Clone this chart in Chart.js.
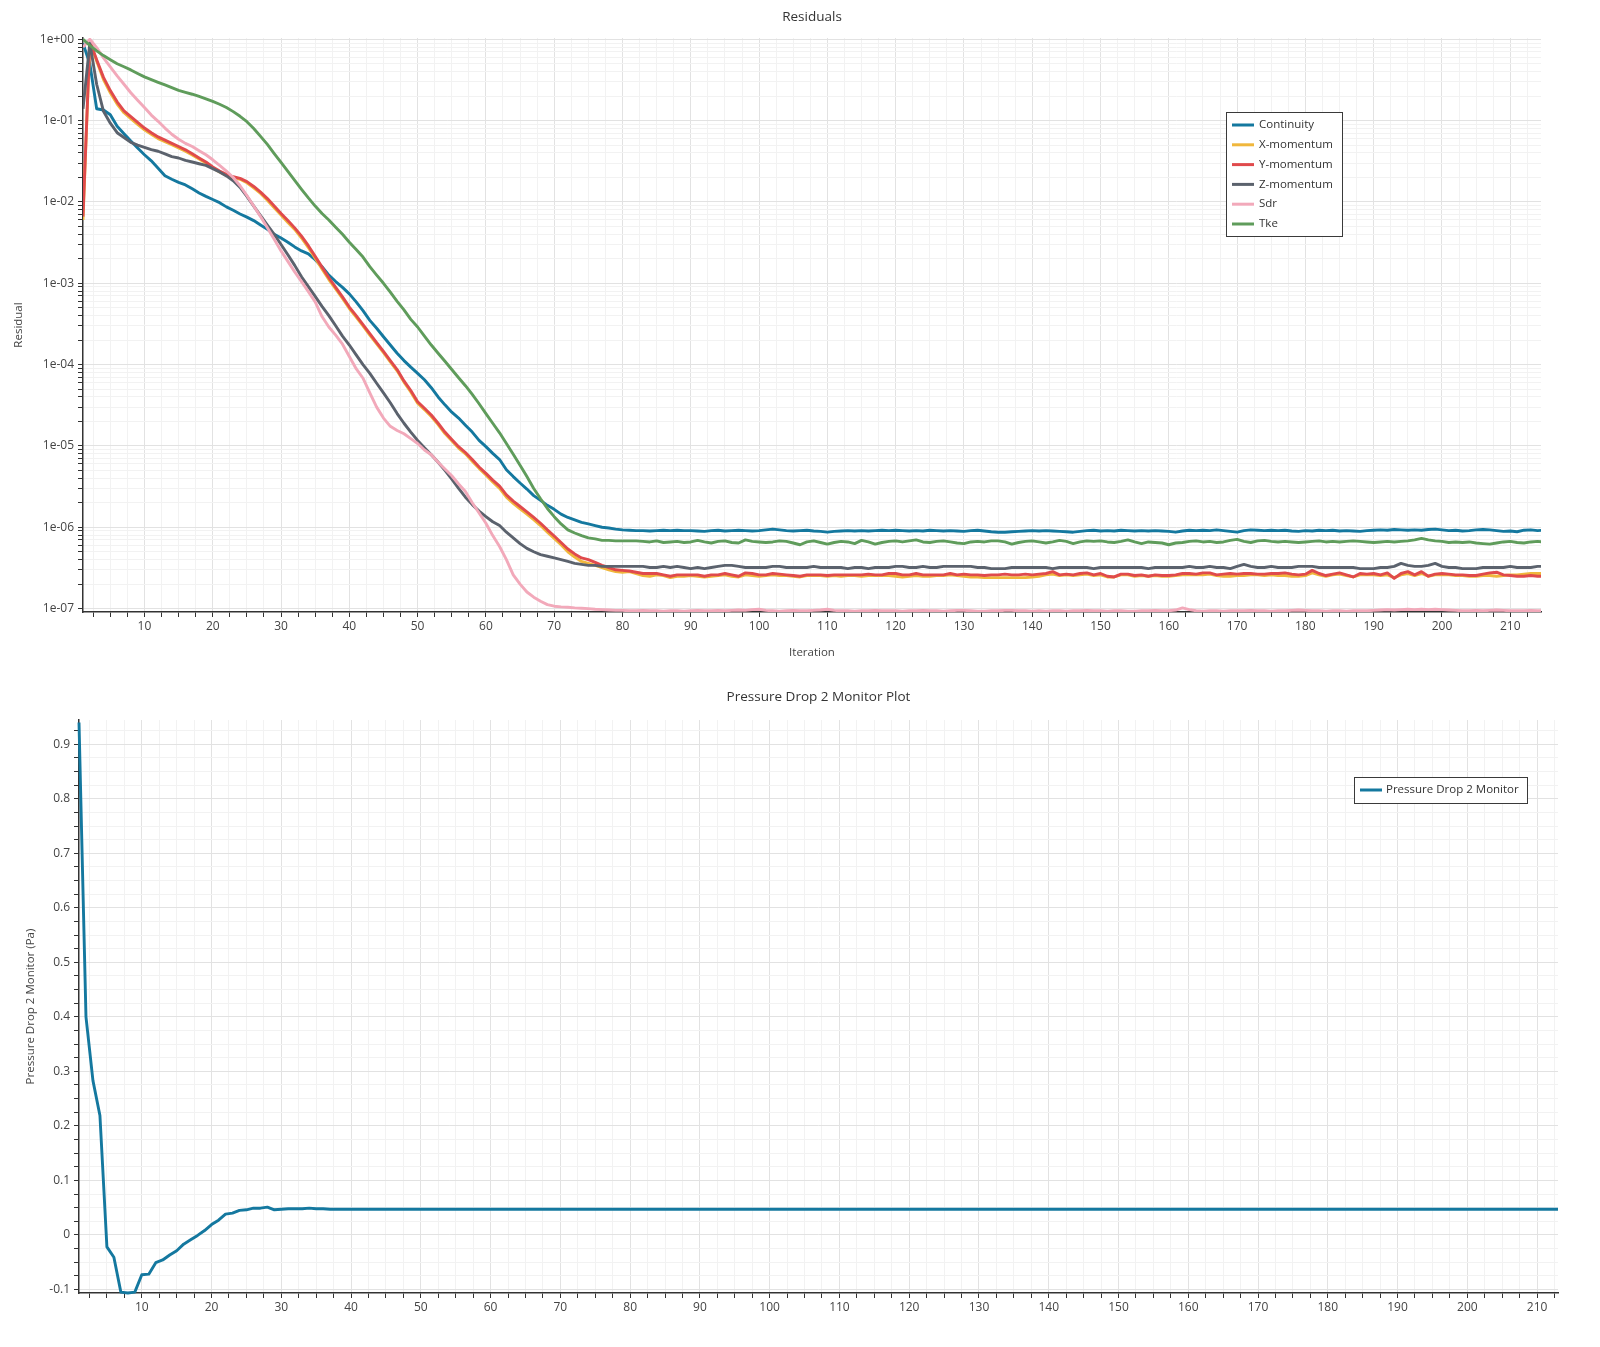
<!DOCTYPE html>
<html><head><meta charset="utf-8">
<script src="https://cdn.jsdelivr.net/npm/chart.js@4.4.0/dist/chart.umd.min.js"></script>
<style>
html,body{margin:0;padding:0;background:#fff;}
#wrap{position:relative;width:1600px;height:1347px;background:#fff;}
#c1{position:absolute;left:0;top:0;}
#c2{position:absolute;left:0;top:668px;}
</style></head><body>
<div id="wrap"><canvas id="c1" width="1600" height="668"></canvas><canvas id="c2" width="1600" height="679"></canvas></div>
<script>
// ---------- DATA ----------
const seriesNames = ['Continuity','X-momentum','Y-momentum','Z-momentum','Sdr','Tke'];
const seriesColors = ['#14789f','#f0b73c','#e04a4c','#5b626d','#f2a9ba','#5f9c5b'];

const continuity = [
0.89,0.50,0.14,0.135,0.118,0.085,0.069,0.056,0.046,0.038,
0.032,0.026,0.021,0.019,0.0174,0.0162,0.0145,0.0129,0.0117,0.0107,
0.0098,0.0087,0.0079,0.0071,0.0065,0.0059,0.0052,0.0046,0.0040,0.0036,
0.0032,0.0028,0.0025,0.0023,0.00195,0.0016,0.00126,0.00105,8.9e-4,7.4e-4,
5.9e-4,4.6e-4,3.5e-4,2.8e-4,2.2e-4,1.74e-4,1.38e-4,1.12e-4,9.3e-5,7.8e-5,
6.5e-5,5.2e-5,4.0e-5,3.2e-5,2.6e-5,2.2e-5,1.8e-5,1.48e-5,1.17e-5,9.8e-6,
8.1e-6,6.8e-6,5.1e-6,4.2e-6,3.5e-6,2.95e-6,2.45e-6,2.14e-6,1.86e-6,1.66e-6,
1.45e-6,1.32e-6,1.23e-6,1.15e-6,1.10e-6,1.05e-6,1.0e-6,9.8e-7,9.5e-7,9.3e-7,
9.2e-7,9.1e-7,9.1e-7,9.0e-7,9.1e-7,9.2e-7,9.1e-7,9.2e-7,9.1e-7,9.1e-7,
9.0e-7,8.9e-7,9.1e-7,9.2e-7,9.0e-7,9.1e-7,9.2e-7,9.1e-7,9.0e-7,9.1e-7,
9.3e-7,9.5e-7,9.3e-7,9.1e-7,9.0e-7,9.1e-7,9.2e-7,9.0e-7,8.9e-7,8.7e-7,
8.9e-7,9.0e-7,9.1e-7,9.0e-7,9.1e-7,9.0e-7,9.1e-7,9.2e-7,9.1e-7,9.2e-7,
9.1e-7,9.0e-7,9.1e-7,9.0e-7,9.2e-7,9.1e-7,9.0e-7,9.1e-7,9.0e-7,8.9e-7,
9.1e-7,9.2e-7,9.0e-7,8.8e-7,8.7e-7,8.7e-7,8.8e-7,8.9e-7,9.0e-7,9.1e-7,
9.0e-7,9.1e-7,9.0e-7,8.9e-7,8.8e-7,8.7e-7,8.9e-7,9.1e-7,9.2e-7,9.0e-7,
9.1e-7,9.0e-7,9.2e-7,9.1e-7,9.0e-7,9.1e-7,9.0e-7,9.1e-7,9.0e-7,8.9e-7,
8.7e-7,9.0e-7,9.2e-7,9.1e-7,9.2e-7,9.1e-7,9.3e-7,9.1e-7,8.9e-7,8.7e-7,
9.1e-7,9.3e-7,9.2e-7,9.1e-7,9.2e-7,9.1e-7,9.2e-7,9.0e-7,8.9e-7,9.1e-7,
9.0e-7,9.2e-7,9.1e-7,9.2e-7,9.0e-7,9.1e-7,9.0e-7,8.9e-7,9.1e-7,9.2e-7,
9.3e-7,9.2e-7,9.4e-7,9.3e-7,9.2e-7,9.3e-7,9.2e-7,9.4e-7,9.5e-7,9.3e-7,
9.1e-7,9.2e-7,9.0e-7,9.1e-7,9.3e-7,9.4e-7,9.3e-7,9.1e-7,8.9e-7,9.0e-7,
8.8e-7,9.2e-7,9.3e-7,9.1e-7,9.2e-7
];

const xMomentum = [
6.0e-3,0.93,0.54,0.32,0.22,0.16,0.125,0.106,0.09,0.077,
0.068,0.06,0.055,0.0505,0.046,0.042,0.0378,0.0337,0.0301,0.0262,
0.0234,0.0213,0.0199,0.019,0.0172,0.0149,0.0127,0.0105,0.0085,0.0069,
0.0056,0.0046,0.0036,0.00275,0.00203,0.0015,0.00111,8.5e-4,6.5e-4,4.9e-4,
3.85e-4,3.0e-4,2.3e-4,1.8e-4,1.4e-4,1.08e-4,8.4e-5,6.1e-5,4.6e-5,3.35e-5,
2.8e-5,2.3e-5,1.83e-5,1.42e-5,1.16e-5,9.4e-6,8.0e-6,6.5e-6,5.3e-6,4.4e-6,
3.6e-6,3.0e-6,2.35e-6,1.97e-6,1.68e-6,1.45e-6,1.24e-6,1.05e-6,8.7e-7,7.3e-7,
6.1e-7,5.0e-7,4.3e-7,3.8e-7,3.6e-7,3.4e-7,3.2e-7,3.0e-7,2.85e-7,2.8e-7,
2.85e-7,2.7e-7,2.55e-7,2.5e-7,2.6e-7,2.55e-7,2.4e-7,2.5e-7,2.5e-7,2.55e-7,
2.5e-7,2.45e-7,2.5e-7,2.55e-7,2.6e-7,2.5e-7,2.45e-7,2.6e-7,2.55e-7,2.5e-7,
2.55e-7,2.6e-7,2.55e-7,2.55e-7,2.5e-7,2.45e-7,2.55e-7,2.55e-7,2.55e-7,2.5e-7,
2.55e-7,2.5e-7,2.55e-7,2.55e-7,2.5e-7,2.55e-7,2.55e-7,2.55e-7,2.55e-7,2.5e-7,
2.45e-7,2.5e-7,2.55e-7,2.5e-7,2.5e-7,2.55e-7,2.55e-7,2.6e-7,2.55e-7,2.5e-7,
2.45e-7,2.45e-7,2.4e-7,2.4e-7,2.4e-7,2.4e-7,2.4e-7,2.4e-7,2.4e-7,2.45e-7,
2.5e-7,2.6e-7,2.65e-7,2.55e-7,2.6e-7,2.55e-7,2.6e-7,2.65e-7,2.55e-7,2.6e-7,
2.45e-7,2.45e-7,2.6e-7,2.6e-7,2.5e-7,2.55e-7,2.5e-7,2.55e-7,2.5e-7,2.5e-7,
2.55e-7,2.6e-7,2.6e-7,2.6e-7,2.6e-7,2.65e-7,2.55e-7,2.5e-7,2.5e-7,2.55e-7,
2.55e-7,2.6e-7,2.6e-7,2.55e-7,2.6e-7,2.55e-7,2.55e-7,2.5e-7,2.5e-7,2.55e-7,
2.75e-7,2.6e-7,2.5e-7,2.6e-7,2.65e-7,2.55e-7,2.45e-7,2.6e-7,2.6e-7,2.6e-7,
2.55e-7,2.6e-7,2.4e-7,2.6e-7,2.7e-7,2.55e-7,2.7e-7,2.5e-7,2.6e-7,2.6e-7,
2.6e-7,2.55e-7,2.55e-7,2.5e-7,2.5e-7,2.55e-7,2.55e-7,2.5e-7,2.55e-7,2.6e-7,
2.6e-7,2.65e-7,2.7e-7,2.7e-7,2.7e-7
];

const yMomentum = [
6.6e-3,0.95,0.56,0.34,0.234,0.17,0.132,0.112,0.095,0.081,
0.071,0.063,0.0575,0.0525,0.048,0.0437,0.039,0.0347,0.031,0.0269,
0.024,0.0219,0.0204,0.0195,0.0178,0.0155,0.0132,0.011,0.0089,0.0072,
0.0059,0.0048,0.0038,0.0029,0.00214,0.00158,0.00117,8.9e-4,6.8e-4,5.1e-4,
4.0e-4,3.1e-4,2.4e-4,1.86e-4,1.45e-4,1.12e-4,8.7e-5,6.3e-5,4.8e-5,3.5e-5,
2.9e-5,2.4e-5,1.9e-5,1.48e-5,1.2e-5,9.8e-6,8.3e-6,6.8e-6,5.5e-6,4.6e-6,
3.8e-6,3.2e-6,2.5e-6,2.1e-6,1.8e-6,1.55e-6,1.32e-6,1.12e-6,9.3e-7,7.8e-7,
6.5e-7,5.4e-7,4.7e-7,4.2e-7,4.0e-7,3.7e-7,3.4e-7,3.2e-7,3.0e-7,2.95e-7,
2.9e-7,2.8e-7,2.7e-7,2.7e-7,2.7e-7,2.6e-7,2.5e-7,2.6e-7,2.6e-7,2.6e-7,
2.6e-7,2.5e-7,2.6e-7,2.6e-7,2.7e-7,2.6e-7,2.5e-7,2.75e-7,2.7e-7,2.6e-7,
2.6e-7,2.7e-7,2.65e-7,2.6e-7,2.55e-7,2.5e-7,2.6e-7,2.6e-7,2.6e-7,2.55e-7,
2.6e-7,2.6e-7,2.6e-7,2.6e-7,2.6e-7,2.65e-7,2.6e-7,2.6e-7,2.7e-7,2.7e-7,
2.6e-7,2.6e-7,2.7e-7,2.6e-7,2.6e-7,2.6e-7,2.6e-7,2.7e-7,2.6e-7,2.65e-7,
2.6e-7,2.6e-7,2.55e-7,2.6e-7,2.6e-7,2.65e-7,2.6e-7,2.6e-7,2.65e-7,2.6e-7,
2.65e-7,2.7e-7,2.85e-7,2.6e-7,2.65e-7,2.6e-7,2.7e-7,2.75e-7,2.6e-7,2.7e-7,
2.5e-7,2.45e-7,2.65e-7,2.65e-7,2.55e-7,2.6e-7,2.5e-7,2.6e-7,2.55e-7,2.55e-7,
2.6e-7,2.7e-7,2.7e-7,2.65e-7,2.75e-7,2.75e-7,2.6e-7,2.65e-7,2.7e-7,2.65e-7,
2.7e-7,2.7e-7,2.65e-7,2.65e-7,2.7e-7,2.7e-7,2.75e-7,2.65e-7,2.6e-7,2.65e-7,
2.95e-7,2.7e-7,2.55e-7,2.65e-7,2.75e-7,2.6e-7,2.45e-7,2.7e-7,2.65e-7,2.7e-7,
2.6e-7,2.75e-7,2.35e-7,2.7e-7,2.85e-7,2.6e-7,2.85e-7,2.5e-7,2.65e-7,2.7e-7,
2.65e-7,2.6e-7,2.6e-7,2.55e-7,2.55e-7,2.65e-7,2.75e-7,2.8e-7,2.6e-7,2.55e-7,
2.5e-7,2.5e-7,2.55e-7,2.5e-7,2.5e-7
];

const zMomentum = [
0.14,0.9,0.28,0.13,0.093,0.071,0.062,0.054,0.050,0.047,
0.044,0.042,0.039,0.036,0.0347,0.0324,0.031,0.0295,0.0282,0.0257,
0.0234,0.0209,0.0182,0.0151,0.0117,0.0089,0.0068,0.0052,0.0040,0.0030,
0.00224,0.00166,0.0012,9.1e-4,6.9e-4,5.2e-4,4.0e-4,3.0e-4,2.24e-4,1.74e-4,
1.32e-4,1.0e-4,7.8e-5,5.9e-5,4.5e-5,3.4e-5,2.5e-5,1.9e-5,1.48e-5,1.17e-5,
9.5e-6,7.8e-6,6.3e-6,5.0e-6,3.9e-6,3.0e-6,2.34e-6,1.9e-6,1.58e-6,1.35e-6,
1.17e-6,1.05e-6,8.7e-7,7.4e-7,6.3e-7,5.5e-7,5.0e-7,4.6e-7,4.4e-7,4.2e-7,
4.0e-7,3.8e-7,3.6e-7,3.5e-7,3.4e-7,3.4e-7,3.3e-7,3.3e-7,3.3e-7,3.3e-7,
3.3e-7,3.3e-7,3.3e-7,3.2e-7,3.2e-7,3.3e-7,3.2e-7,3.3e-7,3.2e-7,3.1e-7,
3.2e-7,3.1e-7,3.2e-7,3.3e-7,3.4e-7,3.4e-7,3.3e-7,3.2e-7,3.2e-7,3.2e-7,
3.2e-7,3.3e-7,3.3e-7,3.2e-7,3.2e-7,3.2e-7,3.2e-7,3.3e-7,3.2e-7,3.2e-7,
3.2e-7,3.2e-7,3.1e-7,3.2e-7,3.2e-7,3.1e-7,3.2e-7,3.2e-7,3.2e-7,3.3e-7,
3.3e-7,3.2e-7,3.2e-7,3.3e-7,3.2e-7,3.2e-7,3.3e-7,3.3e-7,3.3e-7,3.3e-7,
3.3e-7,3.2e-7,3.2e-7,3.1e-7,3.1e-7,3.1e-7,3.2e-7,3.2e-7,3.2e-7,3.2e-7,
3.2e-7,3.2e-7,3.1e-7,3.2e-7,3.2e-7,3.2e-7,3.2e-7,3.2e-7,3.1e-7,3.2e-7,
3.2e-7,3.2e-7,3.2e-7,3.2e-7,3.2e-7,3.2e-7,3.1e-7,3.2e-7,3.2e-7,3.2e-7,
3.2e-7,3.2e-7,3.3e-7,3.2e-7,3.2e-7,3.3e-7,3.2e-7,3.2e-7,3.1e-7,3.3e-7,
3.5e-7,3.3e-7,3.2e-7,3.2e-7,3.3e-7,3.2e-7,3.2e-7,3.2e-7,3.3e-7,3.3e-7,
3.3e-7,3.2e-7,3.2e-7,3.2e-7,3.2e-7,3.2e-7,3.2e-7,3.1e-7,3.1e-7,3.1e-7,
3.2e-7,3.2e-7,3.3e-7,3.6e-7,3.4e-7,3.3e-7,3.3e-7,3.4e-7,3.6e-7,3.3e-7,
3.2e-7,3.2e-7,3.1e-7,3.1e-7,3.1e-7,3.2e-7,3.2e-7,3.2e-7,3.2e-7,3.3e-7,
3.2e-7,3.2e-7,3.2e-7,3.3e-7,3.3e-7
];

const sdr = [
0.8,1.0,0.79,0.59,0.457,0.355,0.28,0.22,0.178,0.145,
0.117,0.098,0.081,0.068,0.059,0.0525,0.048,0.0427,0.038,0.033,
0.0282,0.024,0.020,0.0158,0.012,0.0089,0.0066,0.0048,0.00347,0.0025,
0.00186,0.00138,0.00105,7.9e-4,5.9e-4,3.9e-4,2.9e-4,2.3e-4,1.78e-4,1.26e-4,
8.9e-5,6.8e-5,4.5e-5,3.0e-5,2.2e-5,1.74e-5,1.55e-5,1.41e-5,1.23e-5,1.07e-5,
8.9e-6,7.8e-6,6.3e-6,5.2e-6,4.3e-6,3.4e-6,2.75e-6,2.0e-6,1.5e-6,1.12e-6,
7.9e-7,5.8e-7,4.0e-7,2.6e-7,2.0e-7,1.6e-7,1.38e-7,1.23e-7,1.12e-7,1.07e-7,
1.05e-7,1.04e-7,1.02e-7,1.01e-7,1.0e-7,9.8e-8,9.7e-8,9.6e-8,9.5e-8,9.5e-8,
9.4e-8,9.4e-8,9.5e-8,9.4e-8,9.4e-8,9.3e-8,9.4e-8,9.4e-8,9.3e-8,9.4e-8,
9.5e-8,9.4e-8,9.4e-8,9.5e-8,9.4e-8,9.5e-8,9.6e-8,9.5e-8,9.7e-8,9.8e-8,
9.5e-8,9.4e-8,9.3e-8,9.4e-8,9.5e-8,9.4e-8,9.4e-8,9.5e-8,9.6e-8,9.8e-8,
9.5e-8,9.4e-8,9.4e-8,9.3e-8,9.4e-8,9.4e-8,9.5e-8,9.4e-8,9.4e-8,9.4e-8,
9.3e-8,9.4e-8,9.4e-8,9.5e-8,9.4e-8,9.4e-8,9.3e-8,9.4e-8,9.5e-8,9.5e-8,
9.4e-8,9.3e-8,9.3e-8,9.4e-8,9.4e-8,9.5e-8,9.5e-8,9.4e-8,9.4e-8,9.3e-8,
9.4e-8,9.3e-8,9.4e-8,9.4e-8,9.3e-8,9.4e-8,9.4e-8,9.5e-8,9.4e-8,9.4e-8,
9.3e-8,9.4e-8,9.4e-8,9.3e-8,9.3e-8,9.4e-8,9.4e-8,9.5e-8,9.4e-8,9.4e-8,
9.6e-8,1.02e-7,9.7e-8,9.4e-8,9.3e-8,9.4e-8,9.4e-8,9.3e-8,9.4e-8,9.4e-8,
9.4e-8,9.5e-8,9.4e-8,9.4e-8,9.3e-8,9.4e-8,9.4e-8,9.5e-8,9.6e-8,9.5e-8,
9.4e-8,9.4e-8,9.3e-8,9.4e-8,9.4e-8,9.3e-8,9.4e-8,9.4e-8,9.4e-8,9.5e-8,
9.6e-8,9.7e-8,9.6e-8,9.7e-8,9.8e-8,9.7e-8,9.8e-8,9.7e-8,9.8e-8,9.7e-8,
9.6e-8,9.5e-8,9.4e-8,9.4e-8,9.5e-8,9.4e-8,9.5e-8,9.6e-8,9.5e-8,9.4e-8,
9.4e-8,9.4e-8,9.5e-8,9.4e-8,9.4e-8
];

const tke = [
1.0,0.84,0.72,0.63,0.56,0.50,0.46,0.42,0.38,0.345,
0.32,0.296,0.275,0.255,0.236,0.223,0.211,0.198,0.185,0.172,
0.159,0.145,0.129,0.113,0.097,0.080,0.064,0.051,0.0394,0.0306,
0.0237,0.0184,0.0143,0.0112,0.0089,0.0072,0.0060,0.0049,0.0040,0.0032,
2.6e-3,2.1e-3,1.6e-3,1.26e-3,1.0e-3,7.8e-4,6.0e-4,4.7e-4,3.6e-4,2.9e-4,
2.24e-4,1.74e-4,1.38e-4,1.1e-4,8.7e-5,6.9e-5,5.5e-5,4.3e-5,3.3e-5,2.5e-5,
1.9e-5,1.45e-5,1.07e-5,7.9e-6,5.8e-6,4.2e-6,3.0e-6,2.24e-6,1.7e-6,1.35e-6,
1.1e-6,9.3e-7,8.5e-7,7.9e-7,7.4e-7,7.2e-7,6.9e-7,6.9e-7,6.8e-7,6.8e-7,
6.8e-7,6.8e-7,6.7e-7,6.6e-7,6.8e-7,6.5e-7,6.6e-7,6.7e-7,6.5e-7,6.6e-7,
6.9e-7,6.6e-7,6.4e-7,6.7e-7,6.8e-7,6.5e-7,6.4e-7,7.0e-7,6.7e-7,6.6e-7,
6.5e-7,6.6e-7,6.8e-7,6.7e-7,6.4e-7,6.1e-7,6.6e-7,6.8e-7,6.5e-7,6.2e-7,
6.5e-7,6.7e-7,6.6e-7,6.3e-7,6.9e-7,6.6e-7,6.2e-7,6.5e-7,6.7e-7,6.8e-7,
6.6e-7,6.8e-7,7.0e-7,6.6e-7,6.5e-7,6.7e-7,6.8e-7,6.6e-7,6.4e-7,6.3e-7,
6.6e-7,6.7e-7,6.6e-7,6.8e-7,6.8e-7,6.6e-7,6.2e-7,6.5e-7,6.7e-7,6.8e-7,
6.6e-7,6.4e-7,6.6e-7,6.9e-7,6.7e-7,6.3e-7,6.6e-7,6.8e-7,6.7e-7,6.8e-7,
6.6e-7,6.5e-7,6.7e-7,7.0e-7,6.6e-7,6.3e-7,6.6e-7,6.5e-7,6.4e-7,6.1e-7,
6.4e-7,6.5e-7,6.7e-7,6.8e-7,6.6e-7,6.7e-7,6.5e-7,6.6e-7,6.9e-7,7.1e-7,
6.7e-7,6.5e-7,6.8e-7,6.9e-7,6.7e-7,6.6e-7,6.7e-7,6.6e-7,6.5e-7,6.6e-7,
6.7e-7,6.8e-7,6.6e-7,6.7e-7,6.6e-7,6.7e-7,6.8e-7,6.7e-7,6.6e-7,6.5e-7,
6.6e-7,6.7e-7,6.6e-7,6.7e-7,6.8e-7,7.0e-7,7.3e-7,7.0e-7,6.8e-7,6.7e-7,
6.5e-7,6.6e-7,6.5e-7,6.6e-7,6.4e-7,6.3e-7,6.2e-7,6.4e-7,6.6e-7,6.7e-7,
6.5e-7,6.4e-7,6.6e-7,6.7e-7,6.6e-7
];

const pressureDrop = [
0.94,0.40,0.283,0.219,-0.022,-0.041,-0.105,-0.1066,-0.105,-0.073,
-0.072,-0.051,-0.046,-0.037,-0.029,-0.017,-0.009,-0.001,0.008,0.019,
0.027,0.038,0.040,0.045,0.046,0.049,0.049,0.051,0.046,0.047,
0.048,0.048,0.048,0.049,0.048,0.048,0.047,0.047,0.047,0.047,
0.047,0.047,0.047,0.047,0.047,0.047,0.047,0.047,0.047,0.047,
0.047,0.047,0.047,0.047,0.047,0.047,0.047,0.047,0.047,0.047,
0.047,0.047,0.047,0.047,0.047,0.047,0.047,0.047,0.047,0.047,
0.047,0.047,0.047,0.047,0.047,0.047,0.047,0.047,0.047,0.047,
0.047,0.047,0.047,0.047,0.047,0.047,0.047,0.047,0.047,0.047,
0.047,0.047,0.047,0.047,0.047,0.047,0.047,0.047,0.047,0.047,
0.047,0.047,0.047,0.047,0.047,0.047,0.047,0.047,0.047,0.047,
0.047,0.047,0.047,0.047,0.047,0.047,0.047,0.047,0.047,0.047,
0.047,0.047,0.047,0.047,0.047,0.047,0.047,0.047,0.047,0.047,
0.047,0.047,0.047,0.047,0.047,0.047,0.047,0.047,0.047,0.047,
0.047,0.047,0.047,0.047,0.047,0.047,0.047,0.047,0.047,0.047,
0.047,0.047,0.047,0.047,0.047,0.047,0.047,0.047,0.047,0.047,
0.047,0.047,0.047,0.047,0.047,0.047,0.047,0.047,0.047,0.047,
0.047,0.047,0.047,0.047,0.047,0.047,0.047,0.047,0.047,0.047,
0.047,0.047,0.047,0.047,0.047,0.047,0.047,0.047,0.047,0.047,
0.047,0.047,0.047,0.047,0.047,0.047,0.047,0.047,0.047,0.047,
0.047,0.047,0.047,0.047,0.047,0.047,0.047,0.047,0.047,0.047,
0.047,0.047,0.047
];

// tick labels
const xMajorTicks = [10,20,30,40,50,60,70,80,90,100,110,120,130,140,150,160,170,180,190,200,210];
const yTickLabelsTop = ['1e+00','1e-01','1e-02','1e-03','1e-04','1e-05','1e-06','1e-07'];
const yTicksBottom = [-0.1,0,0.1,0.2,0.3,0.4,0.5,0.6,0.7,0.8,0.9];

// ---------- CHART ----------
const FONT = '"Open Sans","Noto Sans",sans-serif';
Chart.defaults.font.family = FONT;
Chart.defaults.color = '#444';
const GRID_MAJOR = '#e2e2e2', GRID_MINOR = '#f2f2f2', AXIS = '#333';

function stepTicks(min, max, step){
  const t = [];
  for (let k = Math.ceil(min/step - 1e-9); k*step <= max + 1e-9; k++) t.push({value: +(k*step).toFixed(6)});
  return t;
}
function logTicks(min, max){
  const t = [];
  for (let e = -9; e <= 1; e++) for (let m = 1; m <= 9; m++) {
    const v = m * Math.pow(10, e);
    if (v >= min*0.9999 && v <= max*1.0001) t.push({value: v});
  }
  return t;
}
const isDecade = v => Math.abs(Math.log10(v) - Math.round(Math.log10(v))) < 1e-6;
const isTenth = v => Math.abs(v*10 - Math.round(v*10)) < 1e-6;
const isXMajor = v => xMajorTicks.some(t => Math.abs(t - v) < 1e-6);

const boxLegend = {
  id: 'boxLegend',
  afterDraw(chart, args, o) {
    const ctx = chart.ctx;
    ctx.save();
    ctx.fillStyle = '#fff';
    ctx.fillRect(o.x, o.y, o.w, o.h);
    ctx.strokeStyle = '#3a3a3a'; ctx.lineWidth = 1;
    ctx.strokeRect(o.x + 0.5, o.y + 0.5, o.w, o.h);
    ctx.font = '11.5px ' + FONT;
    ctx.textBaseline = 'middle';
    chart.data.datasets.forEach((ds, i) => {
      const cy = o.y + o.first + i * o.row;
      ctx.strokeStyle = ds.borderColor; ctx.lineWidth = 3;
      ctx.beginPath(); ctx.moveTo(o.x + o.lx0, cy); ctx.lineTo(o.x + o.lx1, cy); ctx.stroke();
      ctx.fillStyle = '#333';
      ctx.fillText(ds.label, o.x + o.tx, cy);
    });
    ctx.restore();
  }
};

function xAxis(max, height, withTitle) {
  return {
    type: 'linear', min: 1, max: max,
    afterBuildTicks: s => { s.ticks = stepTicks(s.min, s.max, 2.5); },
    afterFit: s => { s.height = height; },
    ticks: { autoSkip: false, maxRotation: 0, padding: 2, font: {size: 12}, color: '#444',
             callback: v => isXMajor(v) ? String(xMajorTicks.find(t => Math.abs(t - v) < 1e-6)) : '' },
    grid: { color: c => isXMajor(c.tick.value) ? GRID_MAJOR : GRID_MINOR, tickLength: 5, tickColor: AXIS, drawTicks: true },
    border: { display: true, color: AXIS, width: 1.5 },
    title: { display: withTitle, text: 'Iteration', font: {size: 11.5}, color: '#444', padding: {top: 0, bottom: 8} }
  };
}

const topDatasets = [continuity, xMomentum, yMomentum, zMomentum, sdr, tke].map((arr, i) => ({
  label: seriesNames[i],
  data: arr.map((v, k) => ({x: k + 1, y: v})),
  borderColor: seriesColors[i],
  backgroundColor: seriesColors[i],
  borderWidth: 2.9,
  pointRadius: 0,
  tension: 0,
  borderJoinStyle: 'round',
  order: -i
}));

new Chart(document.getElementById('c1'), {
  type: 'line',
  data: { datasets: topDatasets },
  plugins: [boxLegend],
  options: {
    responsive: false, animation: false,
    layout: { padding: { left: 0, right: 59, top: 0, bottom: 0 } },
    plugins: {
      legend: { display: false }, tooltip: { enabled: false },
      title: { display: true, fullSize: false, text: 'Residuals', color: '#333', font: {size: 13.5, weight: 'normal'}, padding: {top: 9, bottom: 12.8} },
      boxLegend: { x: 1226, y: 112, w: 116, h: 124, first: 13, row: 19.8, lx0: 6, lx1: 28, tx: 33 }
    },
    scales: {
      x: xAxis(214.5, 56, true),
      y: {
        type: 'logarithmic', min: 9.08e-8, max: 1.037,
        afterBuildTicks: s => { s.ticks = logTicks(s.min, s.max); },
        afterFit: s => { s.width = 83; },
        ticks: { autoSkip: false, padding: 4, font: {size: 12}, color: '#444',
                 callback: v => isDecade(v) ? yTickLabelsTop[-Math.round(Math.log10(v))] : '' },
        grid: { color: c => isDecade(c.tick.value) ? GRID_MAJOR : GRID_MINOR, tickLength: 5, tickColor: AXIS },
        border: { display: true, color: AXIS, width: 1.5 },
        title: { display: true, text: 'Residual', font: {size: 11.5}, color: '#444', padding: {top: 12, bottom: 0} }
      }
    }
  }
});

new Chart(document.getElementById('c2'), {
  type: 'line',
  data: { datasets: [{
    label: 'Pressure Drop 2 Monitor',
    data: pressureDrop.map((v, k) => ({x: k + 1, y: v})),
    borderColor: '#14789f', backgroundColor: '#14789f',
    borderWidth: 2.9, pointRadius: 0, tension: 0, borderJoinStyle: 'round', clip: 4
  }]},
  plugins: [boxLegend],
  options: {
    responsive: false, animation: false,
    layout: { padding: { left: 0, right: 42, top: 0, bottom: 0 } },
    plugins: {
      legend: { display: false }, tooltip: { enabled: false },
      title: { display: true, fullSize: false, text: 'Pressure Drop 2 Monitor Plot', color: '#333', font: {size: 13.5, weight: 'normal'}, padding: {top: 21.5, bottom: 14.3} },
      boxLegend: { x: 1354, y: 109, w: 173, h: 26, first: 13, row: 20, lx0: 6, lx1: 28, tx: 32 }
    },
    scales: {
      x: xAxis(213, 54, false),
      y: {
        type: 'linear', min: -0.1066, max: 0.9445,
        afterBuildTicks: s => { s.ticks = stepTicks(s.min, s.max, 0.025); },
        afterFit: s => { s.width = 79; },
        ticks: { autoSkip: false, padding: 4, font: {size: 12}, color: '#444',
                 callback: v => { if (!isTenth(v)) return ''; const t = yTicksBottom.find(q => Math.abs(q - v) < 1e-6); return t === undefined ? '' : String(t); } },
        grid: { color: c => isTenth(c.tick.value) ? GRID_MAJOR : GRID_MINOR, tickLength: 5, tickColor: AXIS },
        border: { display: true, color: AXIS, width: 1.5 },
        title: { display: true, text: 'Pressure Drop 2 Monitor (Pa)', font: {size: 11.5}, color: '#444', padding: {top: 24, bottom: 0} }
      }
    }
  }
});
</script>
</body></html>
